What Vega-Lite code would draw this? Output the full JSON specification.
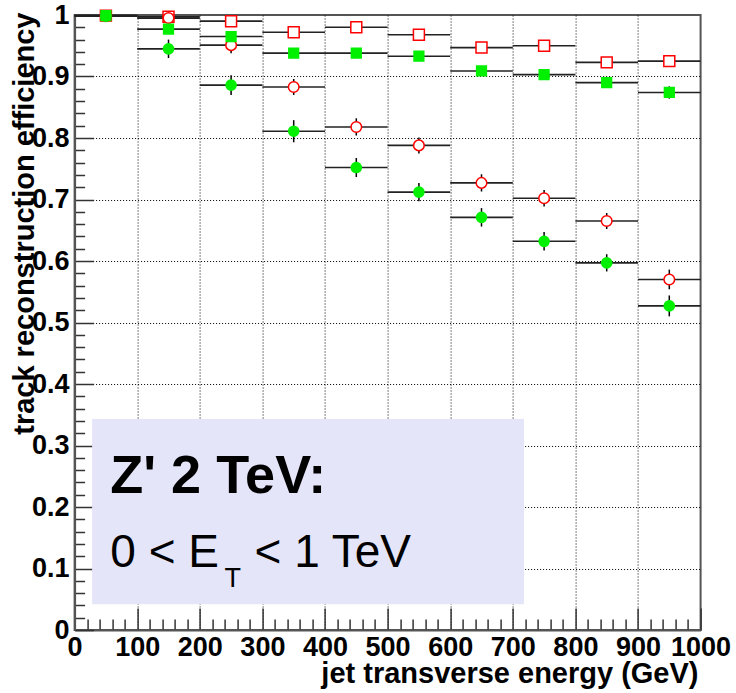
{
  "$schema": "https://vega.github.io/schema/vega-lite/v6.json",
  "width": 626,
  "height": 615,
  "autosize": {"type": "none"},
  "padding": {"left": 74.6, "top": 15, "right": 35.4, "bottom": 63},
  "background": "white",
  "config": {
    "view": {"stroke": "#555555", "strokeWidth": 2},
    "font": "Liberation Sans"
  },
  "datasets": {
    "points": [
      {"series": "rs", "x": 50, "hw": 50, "y": 0.999, "err": 0.002},
      {"series": "rs", "x": 150, "hw": 50, "y": 0.997, "err": 0.003},
      {"series": "rs", "x": 250, "hw": 50, "y": 0.990, "err": 0.004},
      {"series": "rs", "x": 350, "hw": 50, "y": 0.972, "err": 0.004},
      {"series": "rs", "x": 450, "hw": 50, "y": 0.980, "err": 0.004},
      {"series": "rs", "x": 550, "hw": 50, "y": 0.968, "err": 0.005},
      {"series": "rs", "x": 650, "hw": 50, "y": 0.947, "err": 0.005},
      {"series": "rs", "x": 750, "hw": 50, "y": 0.950, "err": 0.005},
      {"series": "rs", "x": 850, "hw": 50, "y": 0.923, "err": 0.006},
      {"series": "rs", "x": 950, "hw": 50, "y": 0.925, "err": 0.006},
      {"series": "rc", "x": 50, "hw": 50, "y": 0.998, "err": 0.003},
      {"series": "rc", "x": 150, "hw": 50, "y": 0.995, "err": 0.008},
      {"series": "rc", "x": 250, "hw": 50, "y": 0.951, "err": 0.013},
      {"series": "rc", "x": 350, "hw": 50, "y": 0.883, "err": 0.013},
      {"series": "rc", "x": 450, "hw": 50, "y": 0.818, "err": 0.014},
      {"series": "rc", "x": 550, "hw": 50, "y": 0.788, "err": 0.013},
      {"series": "rc", "x": 650, "hw": 50, "y": 0.727, "err": 0.014},
      {"series": "rc", "x": 750, "hw": 50, "y": 0.702, "err": 0.0135},
      {"series": "rc", "x": 850, "hw": 50, "y": 0.665, "err": 0.013},
      {"series": "rc", "x": 950, "hw": 50, "y": 0.570, "err": 0.016},
      {"series": "gc", "x": 50, "hw": 50, "y": 0.998, "err": 0.003},
      {"series": "gc", "x": 150, "hw": 50, "y": 0.945, "err": 0.015},
      {"series": "gc", "x": 250, "hw": 50, "y": 0.886, "err": 0.016},
      {"series": "gc", "x": 350, "hw": 50, "y": 0.811, "err": 0.018},
      {"series": "gc", "x": 450, "hw": 50, "y": 0.752, "err": 0.0155},
      {"series": "gc", "x": 550, "hw": 50, "y": 0.712, "err": 0.015},
      {"series": "gc", "x": 650, "hw": 50, "y": 0.671, "err": 0.015},
      {"series": "gc", "x": 750, "hw": 50, "y": 0.632, "err": 0.015},
      {"series": "gc", "x": 850, "hw": 50, "y": 0.597, "err": 0.014},
      {"series": "gc", "x": 950, "hw": 50, "y": 0.527, "err": 0.017},
      {"series": "gs", "x": 50, "hw": 50, "y": 0.999, "err": 0.002},
      {"series": "gs", "x": 150, "hw": 50, "y": 0.977, "err": 0.006},
      {"series": "gs", "x": 250, "hw": 50, "y": 0.965, "err": 0.006},
      {"series": "gs", "x": 350, "hw": 50, "y": 0.938, "err": 0.007},
      {"series": "gs", "x": 450, "hw": 50, "y": 0.938, "err": 0.007},
      {"series": "gs", "x": 550, "hw": 50, "y": 0.933, "err": 0.007},
      {"series": "gs", "x": 650, "hw": 50, "y": 0.909, "err": 0.008},
      {"series": "gs", "x": 750, "hw": 50, "y": 0.903, "err": 0.008},
      {"series": "gs", "x": 850, "hw": 50, "y": 0.890, "err": 0.008},
      {"series": "gs", "x": 950, "hw": 50, "y": 0.874, "err": 0.010}
    ]
  },
  "encoding": {
    "x": {
      "field": "x", "type": "quantitative",
      "scale": {"domain": [0, 1000], "nice": false, "zero": false},
      "axis": {
        "title": "jet transverse energy (GeV)",
        "values": [0,20,40,60,80,100,120,140,160,180,200,220,240,260,280,300,320,340,360,380,400,420,440,460,480,500,520,540,560,580,600,620,640,660,680,700,720,740,760,780,800,820,840,860,880,900,920,940,960,980,1000],
        "format": "d",
        "labelExpr": "datum.value % 100 === 0 ? datum.label : ''",
        "labelFont": "Liberation Sans", "labelFontWeight": "bold", "labelFontSize": 27, "labelColor": "black",
        "labelFlush": false, "labelOverlap": false, "labelBound": false,
        "labelPadding": 26,
        "tickSize": -22,
        "tickDash": {"condition": {"test": "datum.value % 100 === 0", "value": [100, 0]}, "value": [11, 100]},
        "tickColor": "#333333", "tickWidth": 1.5,
        "domainColor": "#555555", "domainWidth": 2,
        "grid": true, "gridColor": "black", "gridDash": [1, 2], "gridWidth": 1,
        "gridOpacity": {"condition": {"test": "datum.value % 100 === 0 && datum.value > 0 && datum.value < 1000", "value": 1}, "value": 0},
        "titleFont": "Liberation Sans", "titleFontWeight": "bold", "titleFontSize": 29, "titleColor": "black",
        "titleX": 623.4, "titleY": 52, "titleAlign": "right", "titleBaseline": "alphabetic"
      }
    },
    "y": {
      "field": "y", "type": "quantitative",
      "scale": {"domain": [0, 1], "nice": false, "zero": false},
      "axis": {
        "title": "track reconstruction efficiency",
        "values": [0,0.02,0.04,0.06,0.08,0.1,0.12,0.14,0.16,0.18,0.2,0.22,0.24,0.26,0.28,0.3,0.32,0.34,0.36,0.38,0.4,0.42,0.44,0.46,0.48,0.5,0.52,0.54,0.56,0.58,0.6,0.62,0.64,0.66,0.68,0.7,0.72,0.74,0.76,0.78,0.8,0.82,0.84,0.86,0.88,0.9,0.92,0.94,0.96,0.98,1],
        "labelExpr": "abs(datum.value * 10 - round(datum.value * 10)) < 0.000001 ? format(datum.value, '~g') : ''",
        "labelFont": "Liberation Sans", "labelFontWeight": "bold", "labelFontSize": 27, "labelColor": "black",
        "labelFlush": false, "labelOverlap": false, "labelBound": false,
        "labelPadding": 24.5,
        "tickSize": -19,
        "tickDash": {"condition": {"test": "abs(datum.value * 10 - round(datum.value * 10)) < 0.000001", "value": [100, 0]}, "value": [10, 100]},
        "tickColor": "#333333", "tickWidth": 1.5,
        "domainColor": "#555555", "domainWidth": 2,
        "grid": true, "gridColor": "black", "gridDash": [1, 2], "gridWidth": 1,
        "gridOpacity": {"condition": {"test": "abs(datum.value * 10 - round(datum.value * 10)) < 0.000001 && datum.value > 0.01 && datum.value < 0.99", "value": 1}, "value": 0},
        "titleFont": "Liberation Sans", "titleFontWeight": "bold", "titleFontSize": 29, "titleColor": "black",
        "titleX": -41, "titleY": -3, "titleAlign": "right", "titleBaseline": "alphabetic", "titleAngle": -90
      }
    }
  },
  "layer": [
    {
      "data": {"values": [{"x": 28, "x2": 718, "y": 0.042, "y2": 0.343}]},
      "mark": {"type": "rect", "fill": "#e5e5fa"},
      "encoding": {
        "x2": {"field": "x2"},
        "y2": {"field": "y2"}
      }
    },
    {
      "data": {"name": "points"},
      "mark": {"type": "errorbar", "color": "#222222", "thickness": 1.6},
      "encoding": {
        "xError": {"field": "hw"}
      }
    },
    {
      "data": {"name": "points"},
      "mark": {"type": "errorbar", "color": "black", "thickness": 1.5},
      "encoding": {
        "yError": {"field": "err"}
      }
    },
    {
      "data": {"name": "points"},
      "mark": {"type": "point", "filled": true, "strokeWidth": 1.5, "opacity": 1},
      "encoding": {
        "shape": {"field": "series", "type": "nominal", "legend": null,
          "scale": {"domain": ["rs", "rc", "gc", "gs"], "range": ["square", "circle", "circle", "square"]}},
        "fill": {"field": "series", "type": "nominal", "legend": null,
          "scale": {"domain": ["rs", "rc", "gc", "gs"], "range": ["#ffffff", "#ffffff", "#00f000", "#00f000"]}},
        "stroke": {"field": "series", "type": "nominal", "legend": null,
          "scale": {"domain": ["rs", "rc", "gc", "gs"], "range": ["#ff0000", "#ff0000", "#00f000", "#00f000"]}},
        "size": {"field": "series", "type": "nominal", "legend": null,
          "scale": {"domain": ["rs", "rc", "gc", "gs"], "range": [120, 95, 85, 105]}}
      }
    },
    {
      "data": {"values": [{"x": 57, "y": 0.2228, "txt": "Z' 2 TeV:"}]},
      "mark": {"type": "text", "font": "Liberation Sans", "fontWeight": "bold", "fontSize": 54, "align": "left", "baseline": "alphabetic", "color": "black"},
      "encoding": {"text": {"field": "txt"}}
    },
    {
      "data": {"values": [{"x": 57, "y": 0.1024, "txt": "0 < E"}, {"x": 287.4, "y": 0.1024, "txt": "< 1 TeV"}]},
      "mark": {"type": "text", "font": "Liberation Sans", "fontSize": 46, "align": "left", "baseline": "alphabetic", "color": "black"},
      "encoding": {"text": {"field": "txt"}}
    },
    {
      "data": {"values": [{"x": 239.5, "y": 0.0699, "txt": "T"}]},
      "mark": {"type": "text", "font": "Liberation Sans", "fontSize": 27, "align": "left", "baseline": "alphabetic", "color": "black"},
      "encoding": {"text": {"field": "txt"}}
    }
  ]
}
